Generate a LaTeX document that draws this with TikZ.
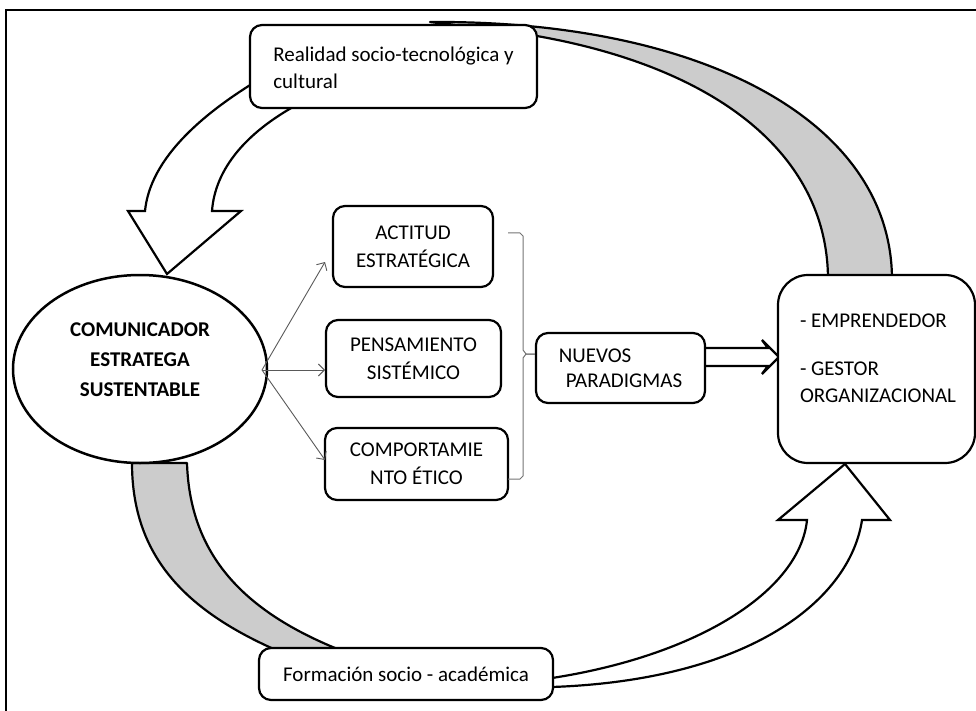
\documentclass[tikz,border=0pt]{standalone}
\usepackage{fontspec}
\setmainfont{Carlito}
\usetikzlibrary{arrows.meta,shapes.geometric}
\begin{document}
\begin{tikzpicture}[x=1pt,y=-1pt,
  box/.style={draw=black,line width=2.2pt,rounded corners=12pt,fill=white,inner sep=0pt,
    font=\fontsize{21}{28}\selectfont,text=black},
  lbl/.style={font=\fontsize{21}{28}\selectfont,text=black,inner sep=0pt},
  band/.style={draw=black,line width=2.2pt,fill=black!20,line join=round},
  front/.style={draw=black,line width=2.2pt,fill=white,line join=miter},
  thinarrow/.style={draw=black!65,line width=0.9pt,-{Straight Barb[length=6pt,width=12pt]}},
  brace/.style={draw=black!55,line width=1pt}]

\useasboundingbox (0,0) rectangle (976,711);

% outer frame (cut at right and bottom)
\draw[line width=1.8pt] (6,725) -- (6,10) -- (990,10);

% back (gray) part of the upper curved arrow
\draw[band] (430,22) .. controls (700,20) and (892,120) .. (892,280)
  -- (828,280) .. controls (828,140) and (690,48) .. (470,27) -- cycle;

% front (white) part of the upper curved arrow with its head
\draw[front] (290,62) .. controls (200,110) and (150,160) .. (145,211)
  -- (128,211) -- (167,274) -- (241,211) -- (212,211)
  .. controls (215,170) and (245,130) .. (310,98) -- cycle;

% back (gray) part of the lower curved arrow
\draw[band] (132,463) -- (187,463) .. controls (190,560) and (250,615) .. (345,652)
  -- (290,656) .. controls (190,615) and (132,560) .. (132,463) -- cycle;

% front (white) part of the lower curved arrow with its head
\draw[front] (540,679) -- (552,678) .. controls (700,655) and (800,590) .. (807,520)
  -- (778,520) -- (845,464) -- (890,520) -- (862,520)
  .. controls (850,600) and (750,680) .. (552,687) -- (540,689) -- cycle;

% boxes
\node[box,minimum width=287pt,minimum height=83pt] (real) at (393.5,66.5) {};
\node[lbl,align=left,font=\fontsize{21}{27}\selectfont] (realt) at (393.5,68)
  {Realidad socio-tecnológica y\\cultural};

\node[box,minimum width=294pt,minimum height=52pt] (form) at (406,674)
  {Formación socio - académica};

\node[draw=black,line width=2.5pt,fill=white,ellipse,minimum width=254pt,
  minimum height=188pt,inner sep=0pt] (com) at (140,369) {};
\node[lbl,align=center,font=\fontsize{21}{30}\selectfont\bfseries] (comt) at (140,360)
  {COMUNICADOR\\ESTRATEGA\\SUSTENTABLE};

\node[box,minimum width=160pt,minimum height=81pt,align=center] (act) at (413,246.5)
  {ACTITUD\\ESTRATÉGICA};
\node[box,minimum width=175pt,minimum height=77pt,align=center] (pen) at (413.5,358.5)
  {PENSAMIENTO\\SISTÉMICO};
\node[box,minimum width=183pt,minimum height=72pt,align=center] (cmp) at (416.5,464)
  {COMPORTAMIE\\NTO ÉTICO};

% double outlined arrow toward the right box
\draw[front,line width=2.4pt] (700,348) -- (768,348) -- (762,340) -- (779,357)
  -- (762,374) -- (768,366) -- (700,366) -- cycle;

\node[box,minimum width=169pt,minimum height=70pt,align=left,
  font=\fontsize{21}{25}\selectfont] (nue) at (620.5,368)
  {NUEVOS\\\hspace*{7pt}PARADIGMAS};

\node[box,rounded corners=30pt,minimum width=197pt,minimum height=188pt] (rb) at (876.5,369) {};
\node[lbl,align=left,font=\fontsize{21}{27}\selectfont] (rbt) at (878,358)
  {- EMPRENDEDOR\\[21pt]- GESTOR\\ORGANIZACIONAL};

% thin arrows from the ellipse to the three boxes
\coordinate (src) at (262,370);
\coordinate (t1) at (325,262);
\coordinate (t2) at (325,370);
\coordinate (t3) at (325,460);
\draw[thinarrow] (src) -- (t1);
\draw[thinarrow] (src) -- (t2);
\draw[thinarrow] (src) -- (t3);

% brace grouping the three boxes
\draw[brace] (508,233) -- (520,233) -- (523,236) -- (523,350) -- (526,354) -- (nue.west |- 0,354);
\draw[brace] (nue.west |- 0,354) -- (526,354) -- (523,358) -- (523,476) -- (520,479) -- (508,479);

\end{tikzpicture}
\end{document}
